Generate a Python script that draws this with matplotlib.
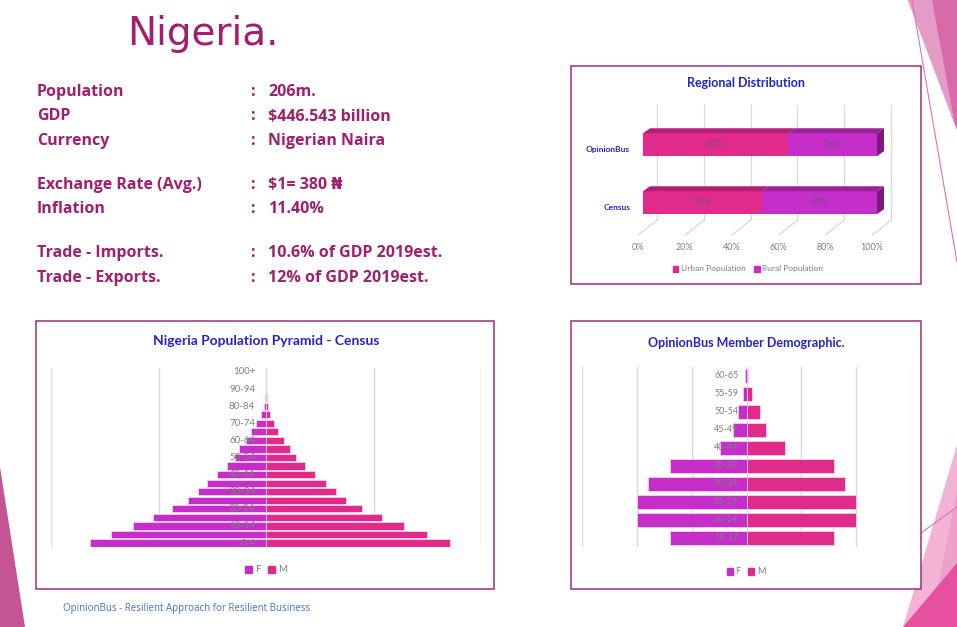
import matplotlib
matplotlib.use('Agg')
import matplotlib.pyplot as plt
from matplotlib.patches import Polygon, Rectangle, Patch
import numpy as np

plt.rcParams['font.family'] = ['Lato', 'DejaVu Sans']

# ---------------- data ----------------
census_ages = ['0-4', '5-9', '10-14', '15-19', '20-24', '25-29', '30-34', '35-39',
               '40-44', '45-49', '50-54', '55-59', '60-64', '65-69', '70-74',
               '75-79', '80-84', '85-89', '90-94', '95-99', '100+']
census_f = [16.4, 14.4, 12.4, 10.5, 8.7, 7.3, 6.3, 5.5, 4.6, 3.6, 2.9, 2.5, 1.9,
            1.4, 0.9, 0.47, 0.16, 0.05, 0.01, 0.0, 0.0]
census_m = [17.1, 15.0, 12.8, 10.8, 8.9, 7.4, 6.5, 5.6, 4.6, 3.6, 2.8, 2.2, 1.7,
            1.15, 0.78, 0.37, 0.16, 0.05, 0.01, 0.0, 0.0]

member_ages = ['18-19', '20-24', '25-29', '30-34', '35-39', '40-44', '45-49',
               '50-54', '55-59', '60-65']
member_f = [14.0, 20.0, 20.0, 18.0, 14.0, 4.9, 2.5, 1.5, 0.55, 0.2]
member_m = [16.0, 20.0, 20.0, 18.0, 16.0, 7.1, 3.5, 2.4, 1.0, 0.25]

regions = ['Census', 'OpinionBus']
urban = [51, 62]
rural = [49, 38]
region_ticks = [0, 20, 40, 60, 80, 100]

info_labels = ['Population', 'GDP', 'Currency', 'Exchange Rate (Avg.)', 'Inflation',
               'Trade - Imports.', 'Trade - Exports.']
info_values = ['206m.', '$446.543 billion', 'Nigerian Naira', '$1= 380 \u20a6', '11.40%',
               '10.6% of GDP 2019est.', '12% of GDP 2019est.']

# ---------------- styles ----------------
W, H = 957, 627
C_F = '#c52ec9'
C_M = '#e02b8a'
C_TXT = '#a01f6e'
C_BLUE = '#2323cc'
C_BOX = '#9a2f7d'
C_GRID = '#d9d9d9'
C_LBL = '#808080'

fig = plt.figure(figsize=(W / 100, H / 100), dpi=100)
fig.patch.set_facecolor('white')

# background / decoration axes in pixel coordinates
bg = fig.add_axes([0, 0, 1, 1])
bg.set_xlim(0, W)
bg.set_ylim(H, 0)
bg.axis('off')

bg.add_patch(Polygon([(0, 467), (25, 627), (0, 627)], closed=True, color='#c45592', lw=0))
bg.add_patch(Polygon([(908, 0), (957, 0), (957, 130)], closed=True, color='#d86aa8', lw=0))
bg.add_patch(Polygon([(908, 0), (932, 0), (955, 125)], closed=True, color='#e49cc6', lw=0))
bg.plot([912, 957], [0, 262], color='#e070b0', lw=0.8)
bg.add_patch(Polygon([(957, 445), (903, 627), (957, 627)], closed=True, color='#f3b3d5', lw=0))
bg.add_patch(Polygon([(957, 490), (930, 627), (957, 627)], closed=True, color='#eda0c8', lw=0))
bg.add_patch(Polygon([(903, 627), (957, 627), (957, 563)], closed=True, color='#e74f9f', lw=0))
bg.plot([921, 957], [533, 507], color='#e070b0', lw=0.8)

# chart boxes
for (x, y, w, h) in [(571, 66, 350, 218), (36, 321, 458, 268), (571, 321, 350, 268)]:
    bg.add_patch(Rectangle((x, y), w, h, facecolor='white', edgecolor=C_BOX, lw=1.1, zorder=3))

# title and info text
bg.text(127, 45, 'Nigeria.', fontsize=28, color='#a51c70', va='baseline', ha='left',
        family=['DejaVu Sans'])
info_y = [96.5, 120.5, 145, 189, 213, 257, 281.5]
for lab, val, yy in zip(info_labels, info_values, info_y):
    bg.text(37, yy, lab, fontsize=11.5, fontweight='bold', color=C_TXT, va='baseline',
            family=['Open Sans', 'DejaVu Sans'])
    bg.text(250, yy, ':', fontsize=11.5, fontweight='bold', color=C_TXT, va='baseline',
            family=['Open Sans', 'DejaVu Sans'])
    bg.text(268, yy, val, fontsize=11.5, fontweight='bold', color=C_TXT, va='baseline',
            family=['Open Sans', 'DejaVu Sans'])

bg.text(63, 611, 'OpinionBus - Resilient Approach for Resilient Business', fontsize=7,
        color='#4472c4', va='baseline', family=['Open Sans', 'DejaVu Sans'])

# chart titles
bg.text(746, 83, 'Regional Distribution', fontsize=9, fontweight='bold', color=C_BLUE,
        ha='center', va='center', zorder=5)
bg.text(266, 341, 'Nigeria Population Pyramid - Census', fontsize=10, fontweight='bold',
        color=C_BLUE, ha='center', va='center', zorder=5)
bg.text(746, 343, 'OpinionBus Member Demographic.', fontsize=9, fontweight='bold',
        color=C_BLUE, ha='center', va='center', zorder=5)


def px_axes(l, t, r, b):
    a = fig.add_axes([l / W, 1 - b / H, (r - l) / W, (b - t) / H])
    a.set_facecolor('none')
    for s in a.spines.values():
        s.set_visible(False)
    a.set_xticks([])
    a.set_yticks([])
    return a


# ---------------- census pyramid ----------------
ax1 = px_axes(51, 367.7, 481, 547.3)
y1 = np.arange(len(census_ages))
ax1.set_xlim(-20, 20)
ax1.set_ylim(-0.5, len(census_ages) - 0.5)
for gx in [-20, -10, 0, 10, 20]:
    ax1.axvline(gx, color=C_GRID, lw=1.0, zorder=0)
ax1.barh(y1, -np.array(census_f), height=0.85, color=C_F, edgecolor='#f6d0ec', lw=0.6, zorder=2)
ax1.barh(y1, census_m, height=0.85, color=C_M, edgecolor='#f6d0ec', lw=0.6, zorder=2)
for i, lab in enumerate(census_ages):
    if i % 2 == 0:
        ax1.text(-1.0, i, lab, ha='right', va='center', fontsize=7, color=C_LBL, zorder=4)
ax1.legend(handles=[Patch(color=C_F, label='F'), Patch(color=C_M, label='M')],
           loc='center', bbox_to_anchor=(266 / W, 1 - 570 / H), bbox_transform=fig.transFigure,
           ncol=2, frameon=False, fontsize=7, labelcolor='#7f7f7f', handlelength=0.7,
           handleheight=0.7, handletextpad=0.3, columnspacing=0.8)

# ---------------- member pyramid ----------------
ax2 = px_axes(582, 367, 911, 547)
y2 = np.arange(len(member_ages))
ax2.set_xlim(-30, 30)
ax2.set_ylim(-0.5, len(member_ages) - 0.5)
for gx in [-30, -20, -10, 0, 10, 20, 30]:
    ax2.axvline(gx, color=C_GRID, lw=1.0, zorder=0)
ax2.barh(y2, -np.array(member_f), height=0.82, color=C_F, edgecolor='#f6d0ec', lw=0.6, zorder=2)
ax2.barh(y2, member_m, height=0.82, color=C_M, edgecolor='#f6d0ec', lw=0.6, zorder=2)
for i, lab in enumerate(member_ages):
    ax2.text(-1.5, i, lab, ha='right', va='center', fontsize=6.5, color=C_LBL, zorder=4)
ax2.legend(handles=[Patch(color=C_F, label='F'), Patch(color=C_M, label='M')],
           loc='center', bbox_to_anchor=(746 / W, 1 - 572 / H), bbox_transform=fig.transFigure,
           ncol=2, frameon=False, fontsize=6.5, labelcolor='#7f7f7f', handlelength=0.7,
           handleheight=0.7, handletextpad=0.3, columnspacing=0.8)

# ---------------- regional distribution (3D-like stacked bars) ----------------
L, T, R, B = 600, 95, 905, 255
X0, XS = 643, 234.0   # px of 0% and px per 100%
Y0, YS = 202.7, 58.0  # px of category 0 and px per category
ax3 = px_axes(L, T, R, B)
ax3.set_xlim((L - X0) / XS, (R - X0) / XS)
ax3.set_ylim((Y0 - B) / YS, (Y0 - T) / YS)

gdx = 14 / XS
g_top, g_bot = (Y0 - 105) / YS, (Y0 - 220) / YS
f_dx, f_bot = -18.5 / XS, (Y0 - 235) / YS
for v in region_ticks:
    xv = v / 100
    ax3.plot([xv + gdx, xv + gdx], [g_top, g_bot], color=C_GRID, lw=0.9, zorder=0)
    ax3.plot([xv + gdx, xv + gdx + f_dx], [g_bot, f_bot], color=C_GRID, lw=0.9, zorder=0)
    ax3.text(xv - 0.021, (Y0 - 247.7) / YS, f'{v}%', ha='center', va='center',
             fontsize=6.5, color=C_LBL)

yr = np.arange(len(regions))
u = np.array(urban) / 100
r = np.array(rural) / 100
h = 0.395
dx, dy = 7 / XS, 5 / YS
ax3.barh(yr, u, height=h, color=C_M, lw=0, zorder=3)
ax3.barh(yr, r, left=u, height=h, color=C_F, lw=0, zorder=3)
for i in range(len(regions)):
    top = yr[i] + h / 2
    bot = yr[i] - h / 2
    segs = [(0, u[i], '#b51f73'), (u[i], u[i] + r[i], '#9a2298')]
    for a, b_, c in segs:
        ax3.add_patch(Polygon([(a, top), (b_, top), (b_ + dx, top + dy), (a + dx, top + dy)],
                              closed=True, color=c, lw=0, zorder=3))
    e = u[i] + r[i]
    ax3.add_patch(Polygon([(e, bot), (e, top), (e + dx, top + dy), (e + dx, bot + dy)],
                          closed=True, color='#7c1a82', lw=0, zorder=3))
    ax3.text(u[i] / 2, yr[i], f'{urban[i]}%', ha='center', va='center', fontsize=6.5,
             color='#7d4b86', zorder=4)
    ax3.text(u[i] + r[i] / 2, yr[i], f'{rural[i]}%', ha='center', va='center', fontsize=6.5,
             color='#7d4b86', zorder=4)
    ax3.text(-13 / XS, yr[i] - 0.09, regions[i], ha='right', va='center', fontsize=6,
             fontweight='bold', color=C_BLUE, zorder=4)

ax3.legend(handles=[Patch(color=C_M, label='Urban Population'),
                    Patch(color=C_F, label='Rural Population')],
           loc='center', bbox_to_anchor=(748 / W, 1 - 269 / H), bbox_transform=fig.transFigure,
           ncol=2, frameon=False, fontsize=6, labelcolor='#7f7f7f', handlelength=0.7,
           handleheight=0.7, handletextpad=0.3, columnspacing=1.0)

fig.savefig('out.png', dpi=100, facecolor='white')
